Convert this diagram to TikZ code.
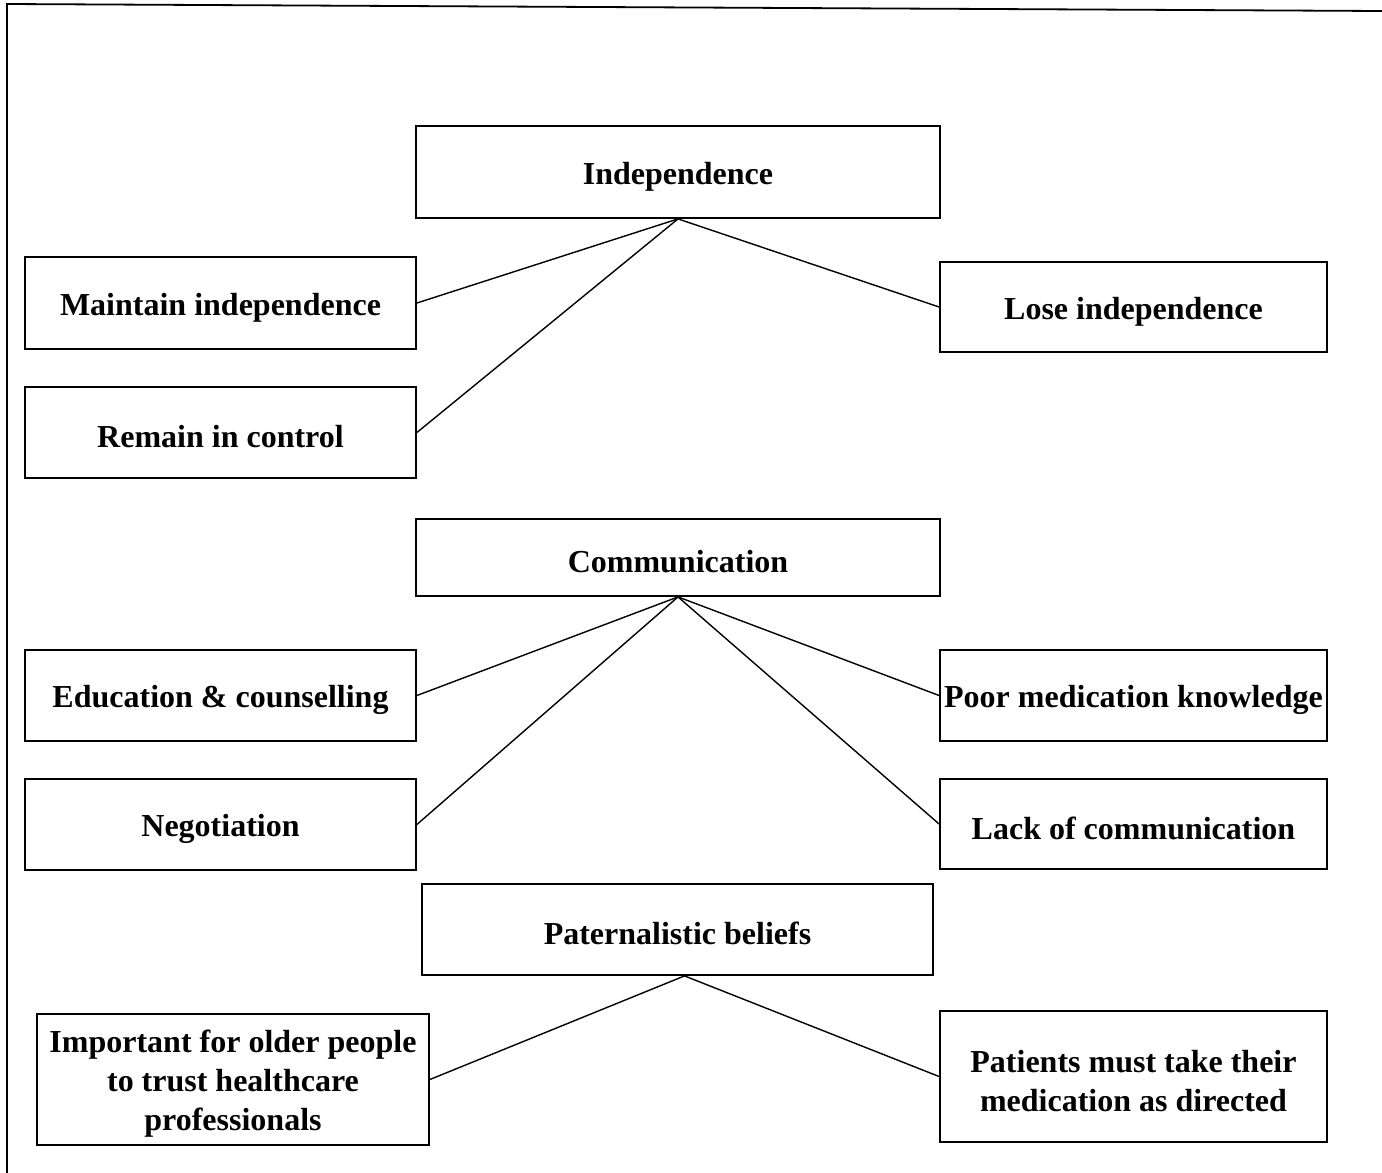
\documentclass[tikz,border=0pt]{standalone}
\usepackage{fontspec}
\setmainfont{Liberation Serif}
% tall strut that lowers the first text line inside a box
\newcommand{\toplift}{\rule{0pt}{15.5pt}}
\begin{document}
\begin{tikzpicture}[x=0.5pt,y=-0.5pt,
  box/.style={draw, line width=0.9pt, rectangle, align=center, inner sep=0pt,
    font=\fontsize{16}{19.5}\selectfont\bfseries,
    execute at begin node={\toplift}},
  link/.style={line width=0.7pt}]
\useasboundingbox (0,0) rectangle (1382,1173);

% page frame (left and top rules)
\draw[line width=0.9pt] (7,1173) -- (7,4) -- (1382,11);

% Independence group
\node[box, minimum width=262pt, minimum height=46pt] (ind) at (678,172) {Independence};
\node[box, minimum width=195.5pt, minimum height=46pt] (maint) at (220.5,303) {Maintain independence};
\node[box, minimum width=195.5pt, minimum height=45.5pt] (ctrl) at (220.5,432.5) {Remain in control};
\node[box, minimum width=193.5pt, minimum height=45pt] (lose) at (1133.5,307) {Lose independence};

% Communication group
\node[box, minimum width=262pt, minimum height=38.5pt] (comm) at (678,557.5) {Communication};
\node[box, minimum width=195.5pt, minimum height=45.5pt] (edu) at (220.5,695.5) {Education \& counselling};
\node[box, minimum width=195.5pt, minimum height=45.5pt] (nego) at (220.5,824.5) {Negotiation};
\node[box, minimum width=193.5pt, minimum height=45.5pt] (poor) at (1133.5,695.5) {Poor medication knowledge};
\node[box, minimum width=193.5pt, minimum height=45pt] (lack) at (1133.5,824) {Lack of communication};

% Paternalistic beliefs group
\node[box, minimum width=255.5pt, minimum height=45.5pt] (pat) at (677.5,929.5) {Paternalistic beliefs};
\node[box, minimum width=196pt, minimum height=65.5pt] (trust) at (233,1079.5)
  {\toplift Important for older people\\to trust healthcare\\professionals};
\node[box, minimum width=193.5pt, minimum height=65.5pt] (take) at (1133.5,1076.5)
  {\toplift Patients must take their\\medication as directed};

% connectors
\draw[link] (maint.east) -- (ind.south) -- (lose.west);
\draw[link] (ctrl.east) -- (ind.south);
\draw[link] (edu.east) -- (comm.south) -- (poor.west);
\draw[link] (nego.east) -- (comm.south) -- (lack.west);
\draw[link] (trust.east) -- ([xshift=3.5pt]pat.south) -- (take.west);
\end{tikzpicture}
\end{document}
